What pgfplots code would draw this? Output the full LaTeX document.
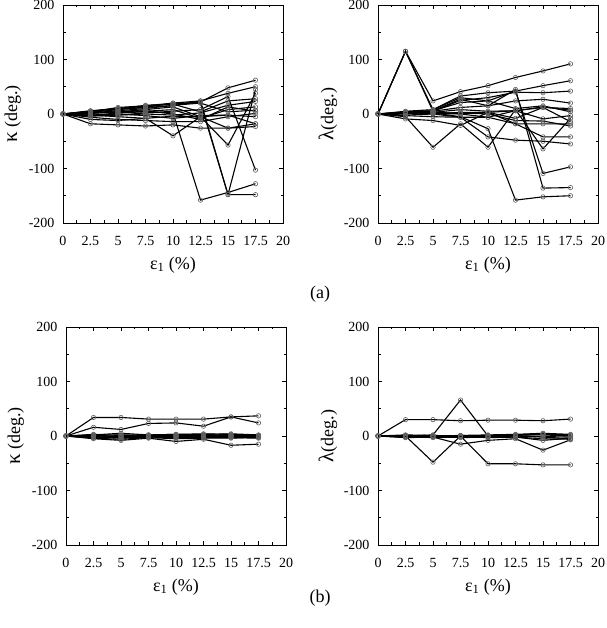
\documentclass[border=0pt]{standalone}
\usepackage{fontspec}
\setmainfont{Liberation Serif}
\usepackage{graphicx}
\usepackage{pgfplots}
\usepackage{pgfplotstable}
\pgfplotsset{compat=1.18}

% kappa, panel (a)
\pgfplotstableread{
x s1 s2 s3 s4 s5 s6 s7 s8 s9 s10 s11 s12 s13 s14 s15 s16 s17
0 0 0 0 0 0 0 0 0 0 0 0 0 0 0 0 0 0
2.5 5 3 2 -3 4 -4 -2 1 -18 -10 2 6 0 -6 3 -2 5
5 10 8 6 2 12 -2 -5 4 -20 -12 4 10 -2 -10 2 0 9
7.5 14 12 10 4 15 2 -8 8 -22 -8 6 12 0 -12 5 -3 16
10 18 15 16 2 20 5 -4 13 -20 -40 0 20 -2 -14 8 -8 18
12.5 22 24 20 -158 24 8 -5 -5 -26 -5 -10 20 2 -14 -8 -3 4
15 48 38 -148 -144 -148 32 -57 -26 -26 -2 13 4 16 -5 8 -2 24
17.5 62 50 45 -128 -148 -103 38 -18 -23 -18 5 7 23 1 13 -5 28
}\tka

% lambda, panel (a)
\pgfplotstableread{
x s1 s2 s3 s4 s5 s6 s7 s8 s9 s10 s11 s12 s13 s14 s15 s16 s17
0 0 0 0 0 0 0 0 0 0 0 0 0 0 0 0 0 0
2.5 115 115 115 5 3 -5 2 1 3 1 -2 4 -3 2 1 -9 2
5 24 8 5 8 6 -61 2 0 5 3 0 6 -5 1 2 -12 4
7.5 41 33 25 30 27 -18 -5 -6 12 8 3 21 -6 0 2 -21 0
10 52 39 30 24 15 -61 -27 -42 15 5 3 24 -6 3 0 3 -6
12.5 67 42 40 42 45 8 -158 -48 24 6 -18 10 -18 6 -12 -8 6
15 79 52 39 -109 -136 -64 -152 -50 27 12 -42 15 -18 -9 -13 12 13
17.5 92 61 42 -97 -135 -8 -150 -55 20 10 -42 4 -18 -3 -22 -14 7
}\tla

% kappa, panel (b)
\pgfplotstableread{
x s1 s2 s3 s4 s5 s6 s7 s8 s9 s10 s11 s12
0 0 0 0 0 0 0 0 0 0 0 0 0
2.5 34 16 -5 2 -2 1 -4 0 3 -1 1 -3
5 34 12 -8 5 -3 2 -6 -1 1 -4 -2 0
7.5 31 23 -4 2 -1 1 -3 0 2 -2 0 -1
10 31 24 -10 3 -2 0 -5 1 3 -3 -1 0
12.5 31 18 -6 4 -1 2 -4 0 3 -2 1 -3
15 35 35 -17 3 -2 1 -4 -1 4 0 2 -3
17.5 37 24 -15 1 -3 0 -2 -1 2 -2 0 -4
}\tkb

% lambda, panel (b)
\pgfplotstableread{
x s1 s2 s3 s4 s5 s6 s7 s8 s9 s10 s11
0 0 0 0 0 0 0 0 0 0 0 0
2.5 30 0 0 -2 -3 1 -1 2 -2 1 0
5 30 2 -48 -1 -2 0 -3 1 0 -1 1
7.5 28 66 0 0 -15 1 -2 0 -3 1 -1
10 29 0 -2 -51 -8 2 -1 1 -2 0 -3
12.5 29 2 0 -51 -5 3 -2 2 0 1 -2
15 28 4 -2 -53 -26 5 -8 2 -1 3 -5
17.5 31 1 -5 -53 -7 3 -4 0 -2 2 -6
}\tlb

\newcommand{\gk}[1]{{\fontsize{21}{21}\selectfont #1}}

\pgfplotsset{
  panel/.style={
    scale only axis, width=220pt, height=218pt,
    xmin=0, xmax=20, ymin=-200, ymax=200,
    xtick={0,2.5,5,7.5,10,12.5,15,17.5,20},
    xticklabels={0,2.5,5,7.5,10,12.5,15,17.5,20},
    ytick={-200,-100,0,100,200},
    yticklabels={-200,-100,0,100,200},
    minor x tick num=1, minor y tick num=1,
    major tick length=4pt, minor tick length=2.5pt,
    tick align=inside,
    tick style={black, line width=0.6pt},
    axis line style={black, line width=0.8pt},
    ticklabel style={font=\fontsize{14}{14}\selectfont},
    xticklabel style={yshift=-10pt},
    yticklabel style={xshift=-5pt},
    label style={font=\fontsize{18}{18}\selectfont},
    xlabel={ε\textsubscript{1} (\%)},
    xlabel style={at={(axis description cs:0.5,-0.193)}, anchor=center},
    ylabel style={at={(axis description cs:-0.228,0.5)}, anchor=center},
    clip=false,
  },
  ser/.style={black, line width=1.1pt, mark=o, mark size=2.2pt,
    mark options={draw=gray!75!black, line width=0.6pt, solid, fill=none}},
}

\begin{document}
\begin{tikzpicture}
\useasboundingbox (0,0) rectangle (606pt,628pt);

\begin{axis}[panel, at={(63pt,405pt)}, anchor=south west, ylabel={\gk{κ} (deg.)}]
\pgfplotsinvokeforeach{1,...,17}{\addplot[ser] table[x=x, y=s#1]{\tka};}
\end{axis}

\begin{axis}[panel, at={(378pt,405pt)}, anchor=south west, ylabel={\gk{λ}(deg.)}]
\pgfplotsinvokeforeach{1,...,17}{\addplot[ser] table[x=x, y=s#1]{\tla};}
\end{axis}

\begin{axis}[panel, at={(66pt,83pt)}, anchor=south west, ylabel={\gk{κ} (deg.)}]
\pgfplotsinvokeforeach{1,...,12}{\addplot[ser] table[x=x, y=s#1]{\tkb};}
\end{axis}

\begin{axis}[panel, at={(378pt,83pt)}, anchor=south west, ylabel={\gk{λ}(deg.)}]
\pgfplotsinvokeforeach{1,...,11}{\addplot[ser] table[x=x, y=s#1]{\tlb};}
\end{axis}

\node[font=\fontsize{18}{18}\selectfont] at (320pt,334pt) {(a)};
\node[font=\fontsize{18}{18}\selectfont] at (320pt,30pt) {(b)};
\end{tikzpicture}
\end{document}
